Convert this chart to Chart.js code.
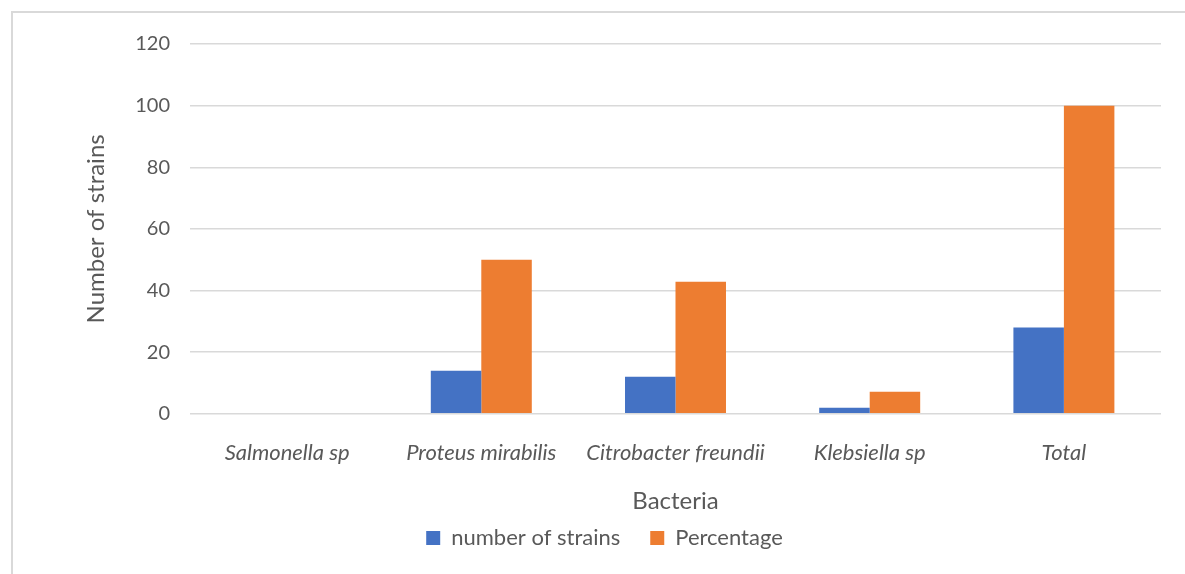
<!DOCTYPE html>
<html>
<head>
<meta charset="utf-8">
<script src="https://cdn.jsdelivr.net/npm/chart.js@4.4.1/dist/chart.umd.min.js"></script>
<style>
  html, body { margin: 0; padding: 0; background: #fff; }
  #wrap { position: relative; width: 1185px; height: 574px; overflow: hidden; }
  #frame { position: absolute; left: 11px; top: 11px; width: 1200px; height: 600px;
           border-left: 2px solid #d9d9d9; border-top: 2px solid #d9d9d9; }
  canvas { position: absolute; left: 0; top: 0; }
</style>
</head>
<body>
<div id="wrap">
  <div id="frame"></div>
  <canvas id="chart" width="1185" height="574"></canvas>
</div>
<script>
const categories = ['Salmonella sp', 'Proteus mirabilis', 'Citrobacter freundii', 'Klebsiella sp', 'Total'];
const strains = [0, 14, 12, 2, 28];
const percentage = [0, 50, 42.86, 7.14, 100];

const textColor = '#595959';
const gridColor = '#d9d9d9';

const ctx = document.getElementById('chart').getContext('2d');
new Chart(ctx, {
    type: 'bar',
    data: {
        labels: categories,
        datasets: [{
            label: 'number of strains',
            data: strains,
            backgroundColor: '#4472C4',
            categoryPercentage: 0.52,
            barPercentage: 1
        }, {
            label: 'Percentage',
            data: percentage,
            backgroundColor: '#ED7D31',
            categoryPercentage: 0.52,
            barPercentage: 1
        }]
    },
    options: {
        responsive: false,
        animation: false,
        layout: {
            padding: { left: 48, right: 24, top: 44, bottom: 15 }
        },
        scales: {
            x: {
                grid: { display: false },
                border: { display: false },
                ticks: {
                    color: textColor,
                    font: { family: 'Lato', size: 22, style: 'italic' },
                    padding: 18,
                    maxRotation: 0
                },
                title: {
                    display: true,
                    text: 'Bacteria',
                    color: textColor,
                    font: { family: 'Lato', size: 24 },
                    // negative bottom lets the wider legend padding overlap the title box
                    padding: { top: 3, bottom: -19 }
                }
            },
            y: {
                min: 0,
                max: 120,
                ticks: {
                    stepSize: 20,
                    color: textColor,
                    font: { family: 'Lato', size: 20 },
                    padding: 20
                },
                grid: { color: gridColor, lineWidth: 1.5, drawTicks: false },
                border: { display: false },
                title: {
                    display: true,
                    text: 'Number of strains',
                    color: textColor,
                    font: { family: 'Lato', size: 24 },
                    padding: { top: 34, bottom: 0 }
                },
                afterFit: function(scale) {
                    scale.width = 142;
                }
            }
        },
        plugins: {
            legend: {
                position: 'bottom',
                labels: {
                    color: textColor,
                    font: { family: 'Lato', size: 22 },
                    boxWidth: 14,
                    boxHeight: 14,
                    padding: 30
                }
            },
            tooltip: { enabled: false }
        }
    }
});
</script>
</body>
</html>
